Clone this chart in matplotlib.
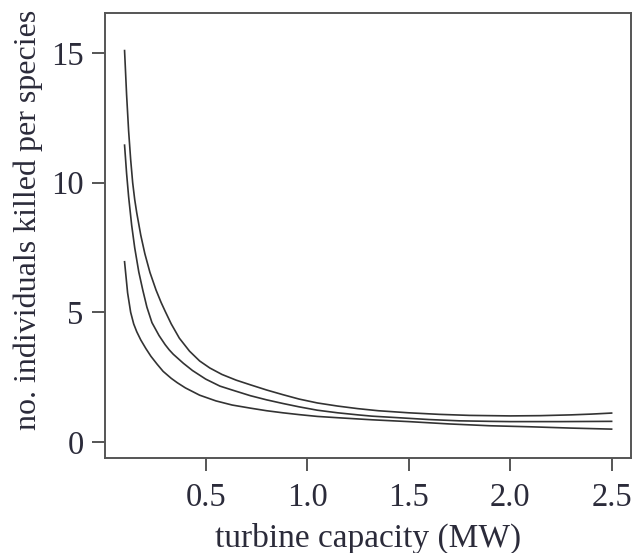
import matplotlib
matplotlib.use('Agg')
import matplotlib.pyplot as plt
import numpy as np

# values
x_top = [0.10, 0.11, 0.12, 0.13, 0.14, 0.15, 0.16, 0.18, 0.20, 0.225, 0.255, 0.28, 0.30,
         0.33, 0.37, 0.42, 0.47, 0.52, 0.58, 0.65, 0.72, 0.80, 0.88, 0.96, 1.05, 1.15,
         1.25, 1.35, 1.50, 1.65, 1.80, 2.00, 2.15, 2.30, 2.40, 2.50]
y_top = [15.1, 13.4, 12.0, 10.9, 10.0, 9.35, 8.84, 7.97, 7.26, 6.54, 5.86, 5.38, 5.04,
         4.55, 4.0, 3.5, 3.12, 2.85, 2.6, 2.38, 2.2, 2.0, 1.82, 1.65, 1.5, 1.38,
         1.28, 1.2, 1.12, 1.06, 1.02, 1.0, 1.01, 1.04, 1.07, 1.11]

x_mid = [0.10, 0.11, 0.12, 0.135, 0.15, 0.17, 0.19, 0.21, 0.235, 0.27, 0.30, 0.32, 0.34,
         0.39, 0.435, 0.50, 0.57, 0.63, 0.72, 0.80, 0.88, 0.96, 1.05, 1.15, 1.25, 1.32,
         1.45, 1.60, 1.75, 1.90, 2.00, 2.25, 2.50]
y_mid = [11.45, 10.36, 9.46, 8.36, 7.49, 6.56, 5.85, 5.2, 4.6, 4.1, 3.75, 3.55, 3.38,
         3.03, 2.75, 2.42, 2.15, 2.0, 1.78, 1.62, 1.48, 1.35, 1.22, 1.12, 1.04, 0.99,
         0.93, 0.86, 0.81, 0.79, 0.78, 0.78, 0.79]

x_low = [0.10, 0.115, 0.13, 0.145, 0.16, 0.18, 0.205, 0.23, 0.26, 0.29, 0.33, 0.36, 0.40,
         0.47, 0.55, 0.63, 0.72, 0.80, 0.88, 0.96, 1.05, 1.15, 1.32, 1.50, 1.70, 1.90,
         2.10, 2.30, 2.50]
y_low = [6.95, 5.75, 5.0, 4.55, 4.25, 3.93, 3.6, 3.3, 3.0, 2.72, 2.45, 2.28, 2.08,
         1.8, 1.58, 1.42, 1.3, 1.2, 1.12, 1.05, 0.98, 0.93, 0.85, 0.78, 0.69, 0.62,
         0.58, 0.53, 0.49]

xticks = [0.5, 1.0, 1.5, 2.0, 2.5]
yticks = [0, 5, 10, 15]

plt.rcParams['font.family'] = ['Liberation Serif', 'DejaVu Serif']
text_col = '#2b2b3a'

fig = plt.figure(figsize=(6.33, 5.53), dpi=100)
ax = fig.add_axes([0.166, 0.172, 0.831, 0.804])

for xs, ys in [(x_top, y_top), (x_mid, y_mid), (x_low, y_low)]:
    ax.plot(xs, ys, color='#333333', lw=1.2)

ax.set_xlim(0.004, 2.596)
ax.set_ylim(-0.62, 16.54)
ax.set_xticks(xticks)
ax.set_xticklabels(['%.1f' % v for v in xticks])
ax.set_yticks(yticks)

for sp in ax.spines.values():
    sp.set_color('#555555')
    sp.set_linewidth(1.4)

ax.tick_params(axis='both', direction='out', length=9.5, width=1.4,
               color='#555555', labelsize=23.5, labelcolor=text_col)
ax.tick_params(axis='x', pad=8)
ax.tick_params(axis='y', pad=6)

ax.set_xlabel('turbine capacity (MW)', fontsize=24, color=text_col, labelpad=7)
ax.set_ylabel('no. individuals killed per species', fontsize=23, color=text_col)
ax.yaxis.set_label_coords(-0.118, 0.535)

fig.savefig('out.png', dpi=100)
